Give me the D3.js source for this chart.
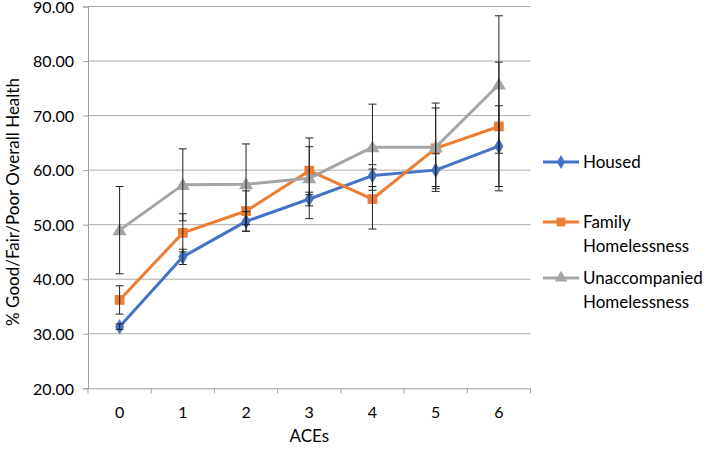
<!DOCTYPE html>
<html><head><meta charset="utf-8">
<script src="https://cdn.jsdelivr.net/npm/d3@7"></script>
<style>body{margin:0;background:#fff}svg{display:block}text{font-family:Lato,"Open Sans",sans-serif;fill:#000}</style>
</head><body><svg id="c" width="709" height="450"></svg>
<script>
const categories = ["0","1","2","3","4","5","6"];
const seriesNames = ["Housed","Family Homelessness","Unaccompanied Homelessness"];
const housed = [31.3, 44.1, 50.6, 54.7, 59.0, 60.0, 64.4];
const housedErr = [0.5, 1.4, 1.8, 1.25, 2.0, 3.0, 7.4];
const family = [36.2, 48.5, 52.5, 59.9, 54.7, 64.0, 68.0];
const familyErr = [2.6, 3.5, 3.7, 4.4, 5.5, 7.4, 11.8];
const unacc = [49.0, 57.3, 57.4, 58.5, 64.2, 64.2, 75.7];
const unaccErr = [8.0, 6.6, 7.4, 7.4, 7.9, 8.1, 12.6];
const yTicks = [20,30,40,50,60,70,80,90];
const colors = ["#4472C4","#ED7D31","#A5A5A5"];

const svg = d3.select("#c");
const L = 88, R = 530.5, T = 6.5, B = 388.3;
const x = d3.scaleBand().domain(categories).range([L,R]);
const y = d3.scaleLinear().domain([20,90]).range([B,T]);

// gridlines
svg.append("g").selectAll("line").data(yTicks.filter(d=>d>20)).join("line")
  .attr("x1",L).attr("x2",R).attr("y1",d=>y(d)).attr("y2",d=>y(d))
  .attr("stroke","#ababab").attr("stroke-width",1);

// y axis
const ya = svg.append("g").attr("transform",`translate(${L},0)`)
  .call(d3.axisLeft(y).tickValues(yTicks).tickFormat(d3.format(".2f")).tickSize(5).tickPadding(9));
ya.select(".domain").attr("stroke","#a0a0a0");
ya.selectAll(".tick line").attr("stroke","#a0a0a0");
ya.selectAll("text").attr("font-size",16).attr("font-family","Lato").attr("dy","0.36em");

// x axis
const xa = svg.append("g").attr("transform",`translate(0,${B})`)
  .call(d3.axisBottom(x).tickSize(0).tickPadding(18));
xa.select(".domain").attr("stroke","#a0a0a0");
xa.selectAll("text").attr("font-size",16).attr("font-family","Lato");
xa.selectAll(".sep").data(d3.range(categories.length+1)).join("line")
  .attr("x1",i=>L+i*x.step()).attr("x2",i=>L+i*x.step()).attr("y1",0).attr("y2",5)
  .attr("stroke","#a0a0a0");

// titles
svg.append("text").attr("x",(L+R)/2).attr("y",442).attr("text-anchor","middle")
  .attr("font-size",17).text("ACEs");
svg.append("text").attr("transform",`translate(19,202) rotate(-90)`).attr("text-anchor","middle")
  .attr("font-size",17).text("% Good/Fair/Poor Overall Health");

const cx = d => x(d)+x.bandwidth()/2;
const data = [housed, family, unacc];
const errs = [housedErr, familyErr, unaccErr];
const symbols = [d3.symbolDiamond, d3.symbolSquare, d3.symbolTriangle];
const sizes = [70, 95, 85];
const line = d3.line().x((d,i)=>cx(categories[i])).y(d=>y(d));

data.forEach((vals,s)=>{
  const g = svg.append("g");
  g.append("path").datum(vals).attr("d",line).attr("fill","none")
    .attr("stroke",colors[s]).attr("stroke-width",3).attr("stroke-linejoin","round");
  g.selectAll("path.m").data(vals).join("path").attr("class","m")
    .attr("transform",(d,i)=>`translate(${cx(categories[i])},${y(d)+(s===2?1:0)})`)
    .attr("d",d3.symbol().type(symbols[s]).size(sizes[s])).attr("fill",colors[s]);
});
// error bars
data.forEach((vals,s)=>{
  const g = svg.append("g").attr("stroke","#222").attr("stroke-width",1);
  vals.forEach((v,i)=>{
    const xc = cx(categories[i]), e = errs[s][i];
    g.append("line").attr("x1",xc).attr("x2",xc).attr("y1",y(v+e)).attr("y2",y(v-e));
    [v+e, v-e].forEach(w=>g.append("line").attr("x1",xc-4).attr("x2",xc+4).attr("y1",y(w)).attr("y2",y(w)));
  });
});

// legend
const leg = [
  {name:["Housed"], y:162},
  {name:["Family","Homelessness"], y:222},
  {name:["Unaccompanied","Homelessness"], y:278}
];
leg.forEach((l,s)=>{
  const g = svg.append("g");
  g.append("line").attr("x1",543).attr("x2",579).attr("y1",l.y).attr("y2",l.y)
    .attr("stroke",colors[s]).attr("stroke-width",3);
  g.append("path").attr("transform",`translate(561,${l.y})`)
    .attr("d",d3.symbol().type(symbols[s]).size(sizes[s]*0.8)).attr("fill",colors[s]);
  l.name.forEach((t,k)=>g.append("text").attr("x",583).attr("y",l.y+6+k*24)
    .attr("font-size",17).text(t));
});
</script></body></html>
